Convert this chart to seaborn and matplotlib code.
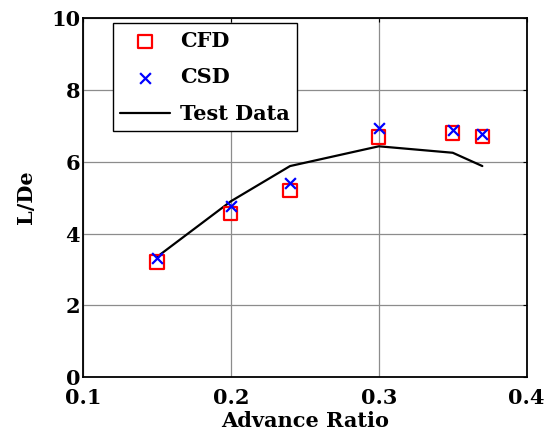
import matplotlib
matplotlib.use("Agg")
import matplotlib.pyplot as plt
import seaborn as sns
import pandas as pd

# Lift-to-equivalent-drag ratio vs advance ratio
advance_ratio = [0.15, 0.20, 0.24, 0.30, 0.35, 0.37]
cfd_ld = [3.21, 4.56, 5.21, 6.69, 6.80, 6.71]
csd_ld = [3.33, 4.76, 5.41, 6.93, 6.88, 6.76]

test_ratio = [0.15, 0.20, 0.24, 0.30, 0.35, 0.37]
test_ld = [3.35, 4.90, 5.88, 6.43, 6.25, 5.88]

x_ticks = [0.1, 0.2, 0.3, 0.4]
y_ticks = [0, 2, 4, 6, 8, 10]

sns.set_style("whitegrid")
plt.rcParams["font.family"] = ["DejaVu Serif"]
plt.rcParams["font.weight"] = "bold"
plt.rcParams["text.color"] = "black"
plt.rcParams["axes.labelcolor"] = "black"
plt.rcParams["xtick.color"] = "black"
plt.rcParams["ytick.color"] = "black"

FS = 15

fig = plt.figure(figsize=(5.57, 4.4), dpi=100)
ax = fig.add_axes([0.149, 0.1425, 0.7966, 0.8165])

pts = pd.DataFrame({"x": advance_ratio, "cfd": cfd_ld, "csd": csd_ld})
test = pd.DataFrame({"x": test_ratio, "y": test_ld})

sns.lineplot(data=test, x="x", y="y", ax=ax, color="black", linewidth=1.6,
             label="Test Data", zorder=3)
sns.scatterplot(data=pts, x="x", y="cfd", ax=ax, marker="s", s=90,
                facecolor="none", edgecolor="red", linewidth=1.6,
                label="CFD", zorder=4)
sns.scatterplot(data=pts, x="x", y="csd", ax=ax, marker="x", s=60,
                color="blue", linewidth=1.6, label="CSD", zorder=5)

ax.set_xlim(0.1, 0.4)
ax.set_ylim(0, 10)
ax.set_xticks(x_ticks)
ax.set_yticks(y_ticks)
ax.set_xticklabels([f"{v:g}" for v in x_ticks])
ax.set_yticklabels([f"{v:g}" for v in y_ticks])

ax.grid(True, color="#8c8c8c", linewidth=0.9, linestyle="-")
ax.set_axisbelow(True)
for side in ax.spines.values():
    side.set_visible(True)
    side.set_color("black")
    side.set_linewidth(1.3)

ax.tick_params(axis="both", direction="in", length=3, width=0.8,
               labelsize=FS, top=True, right=True, color="black",
               labelcolor="black")
ax.tick_params(axis="x", pad=8)
ax.tick_params(axis="y", pad=2)
for lab in ax.get_xticklabels() + ax.get_yticklabels():
    lab.set_fontweight("bold")

ax.set_xlabel("Advance Ratio", fontsize=FS, fontweight="bold", labelpad=2,
              color="black")
ax.set_ylabel("L/De", fontsize=FS, fontweight="bold", labelpad=11,
              color="black")

handles, labels = ax.get_legend_handles_labels()
order = [labels.index(n) for n in ["CFD", "CSD", "Test Data"]]
leg = ax.legend([handles[i] for i in order], [labels[i] for i in order],
                loc="upper left", bbox_to_anchor=(0.067, 0.985),
                prop={"size": FS, "weight": "bold"}, fancybox=False,
                framealpha=1, edgecolor="black", borderpad=0.35,
                handlelength=2.4, labelspacing=0.8, handletextpad=0.5,
                borderaxespad=0)
leg.get_frame().set_linewidth(1.0)
for t in leg.get_texts():
    t.set_color("black")

fig.savefig("out.png", dpi=100)
